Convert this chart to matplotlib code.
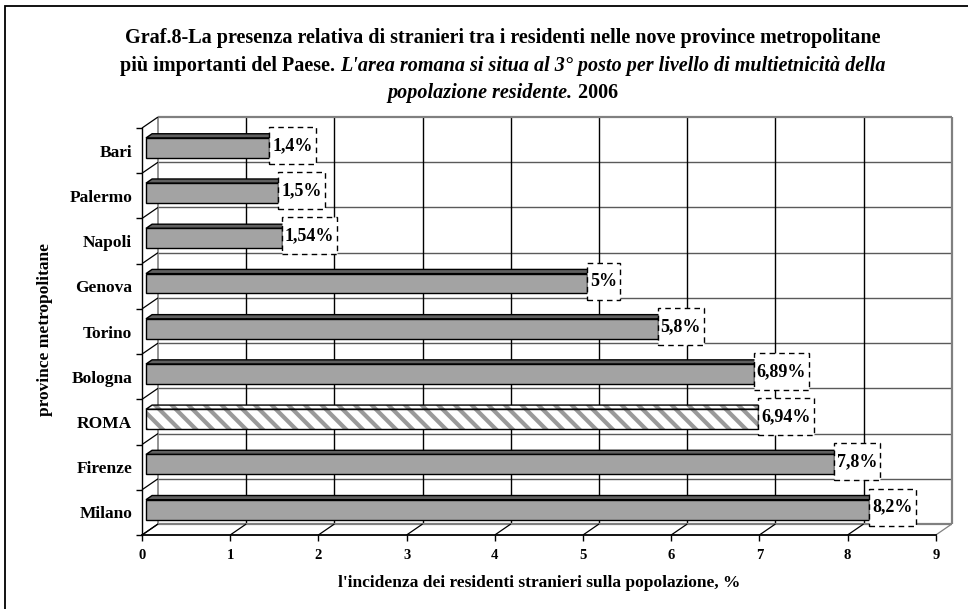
import matplotlib
matplotlib.use("Agg")
import matplotlib.pyplot as plt
from matplotlib.patches import Polygon, Rectangle

plt.rcParams["font.family"] = ["Liberation Serif", "DejaVu Serif"]
plt.rcParams["font.weight"] = "bold"
plt.rcParams["hatch.linewidth"] = 3.0

# data (top to bottom as shown)
province = ["Bari", "Palermo", "Napoli", "Genova", "Torino",
            "Bologna", "ROMA", "Firenze", "Milano"]
incidenza = [1.4, 1.5, 1.54, 5.0, 5.8, 6.89, 6.94, 7.8, 8.2]
etichette = ["1,4%", "1,5%", "1,54%", "5%", "5,8%",
             "6,89%", "6,94%", "7,8%", "8,2%"]
xticks = list(range(0, 10))

W, H = 968, 609
fig = plt.figure(figsize=(W / 100, H / 100), dpi=100)

# front plane of the plot in pixels
x0_px, y0_px = 142, 535
ux, uy = 88.2, 45.22
n = len(province)
ax = fig.add_axes([x0_px / W, (H - y0_px) / H, 9 * ux / W, n * uy / H])
ax.set_xlim(0, 9)
ax.set_ylim(0, n)

# oblique depth offset (16 px right, 11 px up)
ddx, ddy = 16 / ux, 11 / uy


def P(v, c, d):
    return (v + d * ddx, c + d * ddy)


def seg(p, q, **kw):
    ax.plot([p[0], q[0]], [p[1], q[1]], clip_on=False, solid_capstyle="butt", **kw)


wall_gray = "#808080"
# back wall
ax.add_patch(Polygon([P(0, 0, 1), P(9, 0, 1), P(9, n, 1), P(0, n, 1)],
                     closed=True, facecolor="white", edgecolor="none",
                     clip_on=False, zorder=0))
for c in range(1, n):
    seg(P(0, c, 1), P(9, c, 1), color="#5a5a5a", lw=1, zorder=1)
for v in range(1, 9):
    seg(P(v, 0, 1), P(v, n, 1), color="black", lw=1, zorder=1)
seg(P(0, n, 1), P(9, n, 1), color=wall_gray, lw=1.6, zorder=1)
seg(P(9, 0, 1), P(9, n, 1), color=wall_gray, lw=1.6, zorder=1)
seg(P(0, 0, 1), P(0, n, 1), color=wall_gray, lw=1.2, zorder=1)
# floor
seg(P(0, 0, 1), P(9, 0, 1), color=wall_gray, lw=1.6, zorder=1)
for v in range(0, 10):
    seg(P(v, 0, 0), P(v, 0, 1), color="black" if v < 9 else wall_gray, lw=0.9, zorder=1)
# left wall
for c in range(0, n + 1):
    seg(P(0, c, 0), P(0, c, 1), color="black", lw=0.9, zorder=1)

# bars
d0, d1 = 0.25, 0.63
half = 0.22
for i, (nome, val) in enumerate(zip(province, incidenza)):
    c = n - 1 - i
    cm = c + 0.5
    lo, hi = cm - half, cm + half
    front = [P(0, lo, d0), P(val, lo, d0), P(val, hi, d0), P(0, hi, d0)]
    top = [P(0, hi, d0), P(val, hi, d0), P(val, hi, d1), P(0, hi, d1)]
    end = [P(val, lo, d0), P(val, lo, d1), P(val, hi, d1), P(val, hi, d0)]
    if nome == "ROMA":
        for face in (top, end, front):
            ax.add_patch(Polygon(face, closed=True, facecolor="white",
                                 edgecolor="#9a9a9a", hatch="\\\\", lw=0,
                                 clip_on=False, zorder=3))
            ax.add_patch(Polygon(face, closed=True, fill=False,
                                 edgecolor="black", lw=1, clip_on=False, zorder=3))
    else:
        for face, col in ((top, "#606060"), (end, "#808080"), (front, "#a3a3a3")):
            ax.add_patch(Polygon(face, closed=True, facecolor=col,
                                 edgecolor="black", lw=1, clip_on=False, zorder=3))

# axes
for s in ("top", "right"):
    ax.spines[s].set_visible(False)
ax.spines["left"].set_linewidth(1)
ax.spines["bottom"].set_linewidth(1.3)
ax.spines["left"].set_zorder(2)
ax.spines["bottom"].set_zorder(2)
ax.set_xticks(xticks)
ax.set_xticklabels([str(x) for x in xticks])
ax.tick_params(axis="x", direction="out", length=4, width=1, pad=6, labelsize=10.5)
ax.set_yticks([c + 0.5 for c in range(n)])
ax.set_yticklabels(province[::-1])
ax.set_yticks(range(0, n + 1), minor=True)
ax.tick_params(axis="y", which="major", length=0, pad=7, labelsize=12.5)
ax.tick_params(axis="y", which="minor", direction="out", length=4, width=1)
for lbl in ax.get_xticklabels() + ax.get_yticklabels():
    lbl.set_fontweight("bold")
ax.patch.set_visible(False)

fig.text(45 / W, 1 - 330 / H, "province metropolitane", rotation=90,
         ha="center", va="center", fontsize=12.5, fontweight="bold")
fig.text(539 / W, 1 - 583 / H,
         "l'incidenza dei residenti stranieri sulla popolazione, %",
         ha="center", va="center", fontsize=12.5, fontweight="bold")

# outer frame
fig.add_artist(Rectangle((5 / W, -0.05), 1.2, 1 - 6 / H + 0.05,
                         transform=fig.transFigure, fill=False,
                         edgecolor="black", lw=1.3))

# title, lines with mixed styles
titolo = [
    [("Graf.8-La presenza relativa di stranieri tra i residenti nelle nove province metropolitane", "normal")],
    [("più importanti del Paese. ", "normal"),
     ("L'area romana si situa al 3° posto per livello di multietnicità della", "italic")],
    [("popolazione residente.", "italic"), (" 2006", "normal")],
]
baselines = [43, 70.5, 98]
fig.canvas.draw()
renderer = fig.canvas.get_renderer()
inv = fig.transFigure.inverted()
for parts, yb in zip(titolo, baselines):
    texts = [fig.text(0, 1 - yb / H, s, fontsize=14.5, fontweight="bold",
                      style=st, ha="left", va="baseline") for s, st in parts]
    widths = [t.get_window_extent(renderer).width for t in texts]
    x = 503 - sum(widths) / 2
    for t, w in zip(texts, widths):
        t.set_x(x / W)
        x += w

# value labels in white dashed boxes at the bar ends
for i, (val, lab) in enumerate(zip(incidenza, etichette)):
    c = n - 1 - i
    xe, ye = P(val, c + 0.5, d0)
    px, py = ax.transData.transform((xe, ye))
    py += 2.5
    t = fig.text(*inv.transform((px + 3, py)), lab, ha="left", va="center",
                 fontsize=13, fontweight="bold", zorder=7)
    bb = t.get_window_extent(renderer)
    bw = bb.width + 6
    bh = 37
    (fx, fy) = inv.transform((px, py - bh / 2))
    (fx2, fy2) = inv.transform((px + bw, py + bh / 2))
    fig.add_artist(Rectangle((fx, fy), fx2 - fx, fy2 - fy, transform=fig.transFigure,
                             facecolor="white", edgecolor="black", lw=1,
                             linestyle=(0, (4, 3)), zorder=5))

fig.savefig("out.png", dpi=100)
